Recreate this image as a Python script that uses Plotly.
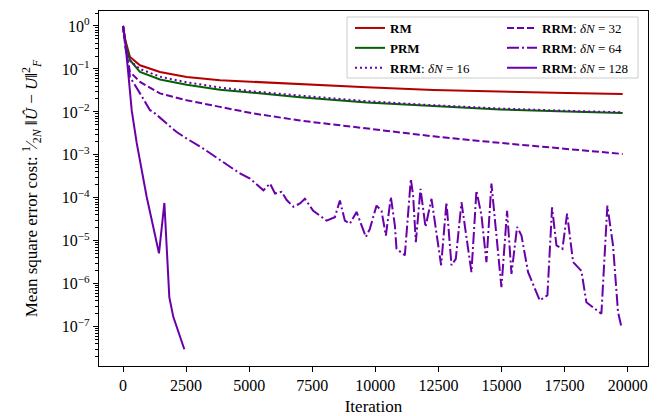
import plotly.graph_objects as go

# ---------------- data ----------------
rm_it = [0, 100, 277, 674, 1466, 2524, 3844, 5164, 7014, 9657, 12297, 14940, 17583, 19800]
rm_val = [1.0, 0.45, 0.19, 0.122, 0.085, 0.065, 0.0546, 0.050, 0.044, 0.0375, 0.0325, 0.0295, 0.0275, 0.0262]

prm_it = [0, 100, 277, 674, 1466, 2524, 3844, 5164, 7014, 9657, 12297, 14940, 17583, 19800]
prm_val = [1.0, 0.40, 0.16, 0.085, 0.057, 0.043, 0.033, 0.0276, 0.022, 0.0165, 0.0136, 0.0114, 0.0102, 0.0095]

r16_it = [0, 150, 300, 674, 1466, 2524, 3844, 5164, 7014, 9657, 12297, 14940, 17583, 19800]
r16_val = [1.0, 0.24, 0.15, 0.10, 0.066, 0.049, 0.037, 0.030, 0.024, 0.0178, 0.0143, 0.0120, 0.0106, 0.0098]

r32_it = [0, 100, 277, 674, 1466, 2524, 3844, 5164, 7014, 9657, 12297, 14940, 17583, 19800]
r32_val = [1.0, 0.30, 0.085, 0.050, 0.027, 0.0187, 0.0131, 0.0092, 0.0063, 0.0041, 0.0027, 0.0019, 0.00138, 0.00105]

r64_it = [0, 277, 674, 1070, 1200, 1862, 2126, 2524, 3051, 3182, 3844, 4636, 5033, 5298,
          5562, 5826, 6024, 6288, 6487, 6750, 7014, 7208, 7538, 8066, 8396, 8594, 8792,
          8990, 9254, 9624, 9782, 10046, 10244, 10416, 10614, 10772, 10838, 11168, 11406,
          11497, 11604, 11789, 11987, 12225, 12383, 12606, 12818, 13016, 13188, 13413,
          13808, 14006, 14204, 14402, 14600, 14798, 14996, 15220, 15394, 15616, 15790,
          16052, 16515, 16818, 17003, 17176, 17413, 17598, 17835, 18165, 18363, 18957,
          19194, 19418, 19616, 19748]
r64_val = [1.0, 0.065, 0.027, 0.011, 0.010, 0.0045, 0.0034, 0.0024, 0.00155, 0.0014, 7.6e-4,
           3.7e-4, 2.8e-4, 2.0e-4, 1.5e-4, 2.15e-4, 1.26e-4, 1.38e-4, 8.9e-5, 6.2e-5, 7.4e-5,
           9.5e-5, 5.0e-5, 2.95e-5, 3.55e-5, 8.7e-5, 2.95e-5, 2.5e-5, 4.7e-5, 1.23e-5, 1.9e-5,
           6.6e-5, 5.0e-5, 1.32e-5, 1.05e-4, 2.3e-5, 6.5e-6, 4.6e-6, 2.75e-4, 1.12e-4, 9.3e-6,
           1.62e-4, 2.1e-5, 9.5e-5, 2.1e-5, 2.7e-6, 7.9e-5, 2.7e-6, 3.8e-6, 7.9e-5, 1.86e-6,
           1.48e-4, 3.9e-5, 3.2e-6, 2.14e-4, 1.58e-5, 8.3e-7, 5.0e-5, 1.7e-6, 2.1e-5, 1.32e-5,
           1.86e-6, 4.1e-7, 5.4e-7, 6.0e-5, 7.8e-6, 6.5e-6, 4.3e-5, 3.2e-6, 2.0e-6, 3.7e-7,
           2.0e-7, 6.6e-5, 7.8e-6, 2.2e-7, 1.0e-7]

r128_it = [0, 80, 211, 344, 543, 741, 939, 1200, 1426, 1640, 1835, 1993, 2430]
r128_val = [1.0, 0.47, 0.078, 0.011, 1.9e-3, 4.4e-4, 1.05e-4, 2.1e-5, 5.1e-6, 7.6e-5, 4.9e-7, 1.7e-7, 3.0e-8]

x_ticks = [0, 2500, 5000, 7500, 10000, 12500, 15000, 17500, 20000]
y_ticks = [1, 1e-1, 1e-2, 1e-3, 1e-4, 1e-5, 1e-6, 1e-7]
y_ticktext = ["10<sup>0</sup>", "10<sup>−1</sup>", "10<sup>−2</sup>", "10<sup>−3</sup>",
              "10<sup>−4</sup>", "10<sup>−5</sup>", "10<sup>−6</sup>", "10<sup>−7</sup>"]

# ---------------- styling ----------------
W, H = 657, 416
ML, MR, MT, MB = 99, 9, 11, 50
PW, PH = W - ML - MR, H - MT - MB
FONT = "Liberation Serif"
RED = "#b40000"
GREEN = "#006400"
PURPLE = "#6a00aa"
LW = 2


def px_x(p):
    return (p - ML) / PW


def px_y(p):
    return (H - MB - p) / PH


fig = go.Figure()

fig.add_trace(go.Scatter(x=rm_it, y=rm_val, mode="lines", name="<b>RM</b>",
                         line=dict(color=RED, width=LW), legend="legend"))
fig.add_trace(go.Scatter(x=prm_it, y=prm_val, mode="lines", name="<b>PRM</b>",
                         line=dict(color=GREEN, width=LW), legend="legend"))
fig.add_trace(go.Scatter(x=r16_it, y=r16_val, mode="lines",
                         name="<b>RRM</b>: <i>δN</i> = 16",
                         line=dict(color=PURPLE, width=LW, dash="2px,3px"), legend="legend"))
fig.add_trace(go.Scatter(x=r32_it, y=r32_val, mode="lines",
                         name="<b>RRM</b>: <i>δN</i> = 32",
                         line=dict(color=PURPLE, width=LW, dash="7px,3px"), legend="legend2"))
fig.add_trace(go.Scatter(x=r64_it, y=r64_val, mode="lines",
                         name="<b>RRM</b>: <i>δN</i> = 64",
                         line=dict(color=PURPLE, width=LW, dash="12px,3px,2px,3px"), legend="legend2"))
fig.add_trace(go.Scatter(x=r128_it, y=r128_val, mode="lines",
                         name="<b>RRM</b>: <i>δN</i> = 128",
                         line=dict(color=PURPLE, width=LW), legend="legend2"))

axis_common = dict(showline=True, linecolor="black", linewidth=1.2, mirror=True,
                   ticks="outside", ticklen=5, tickwidth=1, tickcolor="black",
                   showgrid=False, zeroline=False, automargin=False,
                   tickfont=dict(family=FONT, size=16, color="black"))

fig.update_xaxes(range=[-951, 20804], tickvals=x_ticks, ticktext=[str(v) for v in x_ticks],
                 title=dict(text="Iteration", font=dict(family=FONT, size=17, color="black"),
                            standoff=7),
                 **axis_common)
fig.update_yaxes(type="log", range=[-7.914, 0.349], tickvals=y_ticks, ticktext=y_ticktext,
                 minor=dict(ticks="outside", ticklen=2.5, tickcolor="black", dtick="D1",
                            showgrid=False),
                 title=dict(text="Mean square error cost: <sup>1</sup>⁄<sub>2<i>N</i></sub> "
                                 "‖<i>Û</i> − <i>U</i>‖<sup>2</sup><sub><i>F</i></sub>",
                            font=dict(family=FONT, size=17, color="black"), standoff=19),
                 **axis_common)

legend_common = dict(bgcolor="rgba(0,0,0,0)", borderwidth=0, orientation="v",
                     font=dict(family=FONT, size=13, color="black"),
                     xanchor="left", yanchor="top", tracegroupgap=0,
                     itemwidth=30)

fig.update_layout(
    width=W, height=H,
    margin=dict(l=ML, r=MR, t=MT, b=MB, autoexpand=False),
    paper_bgcolor="white", plot_bgcolor="white",
    showlegend=True,
    legend=dict(x=px_x(350), y=px_y(13), **legend_common),
    legend2=dict(x=px_x(502), y=px_y(13), **legend_common),
    shapes=[dict(type="rect", xref="paper", yref="paper",
                 x0=px_x(347), x1=px_x(638), y0=px_y(78), y1=px_y(17),
                 line=dict(color="#cccccc", width=1),
                 fillcolor="rgba(255,255,255,0.85)", layer="above")],
)

fig.write_html("out.html", config={"displayModeBar": False},
               post_script="document.body.style.margin='0';")
